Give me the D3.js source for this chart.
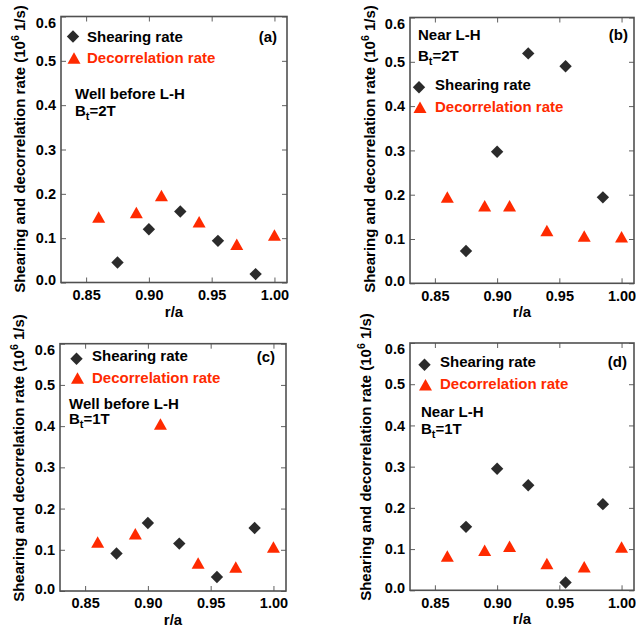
<!DOCTYPE html>
<html>
<head>
<meta charset="utf-8">
<script src="https://cdn.jsdelivr.net/npm/d3@7"></script>
<style>
  html, body { margin: 0; padding: 0; background: #fff; }
  svg { display: block; }
  text { font-family: "Liberation Sans", Arial, Helvetica, sans-serif; font-weight: bold; }
</style>
</head>
<body>
<script>
// Normalised radius of each measurement
const radiusShear = [0.875, 0.900, 0.925, 0.955, 0.985];
const radiusDecor = [0.860, 0.890, 0.910, 0.940, 0.970, 1.000];

// Rates in units of 10^6 1/s
const shearA = [0.045, 0.120, 0.160, 0.094, 0.019];
const decorA = [0.148, 0.158, 0.196, 0.137, 0.086, 0.107];
const shearB = [0.073, 0.297, 0.519, 0.490, 0.194];
const decorB = [0.195, 0.175, 0.175, 0.119, 0.107, 0.105];
const shearC = [0.091, 0.165, 0.115, 0.034, 0.153];
const decorC = [0.119, 0.139, 0.405, 0.068, 0.058, 0.107];
const shearD = [0.154, 0.295, 0.255, 0.019, 0.209];
const decorD = [0.083, 0.097, 0.107, 0.065, 0.057, 0.105];

const xTickValues = [0.85, 0.90, 0.95, 1.00];
const yTickValues = [0.0, 0.1, 0.2, 0.3, 0.4, 0.5, 0.6];
const seriesNames = ["Shearing rate", "Decorrelation rate"];
const panelTags = ["(a)", "(b)", "(c)", "(d)"];
const conditionText = ["Well before L-H", "Near L-H", "Well before L-H", "Near L-H"];
const fieldText = ["2T", "2T", "1T", "1T"];

const shearSets = [shearA, shearB, shearC, shearD];
const decorSets = [decorA, decorB, decorC, decorD];

const W = 636, H = 634;
const frameColor = "#505050";
const diamondColor = "#2b2b2b";
const triangleColor = "#ff2a00";

// Panel placement and annotation anchors
const layout = [
  { box: [61, 287, 16.5, 282.5], tag: [277, 41.5],
    leg: { mx: 73, sy: 36.5, ty: 58, tx: 87, sb: 41.5, db: 63.3 },
    cond: { x: 75, y: 99.3, dy: 16.7 }, title: { x: 24.5, y: 149 } },
  { box: [410, 634, 17.5, 283.3], tag: [628, 40],
    leg: { mx: 419, sy: 87.3, ty: 107.3, tx: 435, sb: 90, db: 112.3 },
    cond: { x: 418, y: 39.5, dy: 21.3 }, title: { x: 374.5, y: 149 } },
  { box: [60, 286, 343.7, 591], tag: [275, 362],
    leg: { mx: 76.5, sy: 358.7, ty: 378, tx: 92, sb: 361.3, db: 383 },
    cond: { x: 69, y: 408.7, dy: 15.7 }, title: { x: 24, y: 458 } },
  { box: [410, 634, 343, 590.3], tag: [627, 367],
    leg: { mx: 424.5, sy: 364.7, ty: 384.7, tx: 440, sb: 367, db: 389.3 },
    cond: { x: 421, y: 417, dy: 17 }, title: { x: 371, y: 457 } }
];

const svg = d3.select("body").append("svg")
  .attr("width", W).attr("height", H)
  .attr("viewBox", `0 0 ${W} ${H}`);

function diamondPath(cx, cy, r) {
  return `M${cx},${cy - r}L${cx + r},${cy}L${cx},${cy + r}L${cx - r},${cy}Z`;
}
function trianglePath(cx, cy, w, h) {
  return `M${cx},${cy - h / 2}L${cx + w / 2},${cy + h / 2}L${cx - w / 2},${cy + h / 2}Z`;
}

layout.forEach((L, i) => {
  const [x0, x1, y0, y1] = L.box;
  const x = d3.scaleLinear().domain([0.83, 1.01]).range([x0, x1]);
  const y = d3.scaleLinear().domain([0, 0.6]).range([y1, y0]);
  const g = svg.append("g");

  // Inward ticks on all four sides
  const bottom = g.append("g").attr("transform", `translate(0,${y1})`)
    .call(d3.axisBottom(x).tickValues(xTickValues).tickFormat(d3.format(".2f"))
      .tickSizeInner(-5).tickSizeOuter(0).tickPadding(7));
  const top = g.append("g").attr("transform", `translate(0,${y0})`)
    .call(d3.axisTop(x).tickValues(xTickValues).tickFormat("")
      .tickSizeInner(-5).tickSizeOuter(0));
  const left = g.append("g").attr("transform", `translate(${x0},0)`)
    .call(d3.axisLeft(y).tickValues(yTickValues).tickFormat(d3.format(".1f"))
      .tickSizeInner(-5).tickSizeOuter(0).tickPadding(5));
  const right = g.append("g").attr("transform", `translate(${x1},0)`)
    .call(d3.axisRight(y).tickValues(yTickValues).tickFormat("")
      .tickSizeInner(-5).tickSizeOuter(0));

  [bottom, top, left, right].forEach(a => {
    a.select(".domain").remove();
    a.selectAll(".tick line").attr("stroke", "#606060").attr("stroke-width", 1);
    a.selectAll("text").attr("fill", "#000").attr("font-size", "14.5px")
      .attr("font-family", null);
  });
  // keep end labels inside the frame height
  left.selectAll(".tick text").attr("y", d => {
    const p = y(d);
    return Math.min(Math.max(p, y0 + 6), y1 - 2.5) - p;
  });

  g.append("rect")
    .attr("x", x0).attr("y", y0)
    .attr("width", x1 - x0).attr("height", y1 - y0)
    .attr("fill", "none").attr("stroke", frameColor).attr("stroke-width", 1.6);

  // axis titles
  g.append("text")
    .attr("x", (x0 + x1) / 2).attr("y", y1 + 34)
    .attr("text-anchor", "middle").attr("font-size", "15px")
    .text("r/a");

  const t = g.append("text")
    .attr("transform", `translate(${L.title.x},${L.title.y}) rotate(-90)`)
    .attr("text-anchor", "middle").attr("font-size", "15px");
  t.append("tspan").text("Shearing and decorrelation rate (10");
  t.append("tspan").attr("dy", -6).attr("font-size", "10.5px").text("6");
  t.append("tspan").attr("dy", 6).text(" 1/s)");

  // data marks
  g.append("g").selectAll("path")
    .data(decorSets[i].map((v, k) => [radiusDecor[k], v]))
    .join("path")
    .attr("d", d => trianglePath(x(d[0]), y(d[1]), 13, 11.5))
    .attr("fill", triangleColor);

  g.append("g").selectAll("path")
    .data(shearSets[i].map((v, k) => [radiusShear[k], v]))
    .join("path")
    .attr("d", d => diamondPath(x(d[0]), y(d[1]), 6.2))
    .attr("fill", diamondColor);

  // legend
  g.append("path").attr("d", diamondPath(L.leg.mx, L.leg.sy, 6.2)).attr("fill", diamondColor);
  g.append("path").attr("d", trianglePath(L.leg.mx + 1, L.leg.ty, 13, 11.5)).attr("fill", triangleColor);
  g.append("text").attr("x", L.leg.tx).attr("y", L.leg.sb)
    .attr("font-size", "15px").attr("fill", "#000").text(seriesNames[0]);
  g.append("text").attr("x", L.leg.tx).attr("y", L.leg.db)
    .attr("font-size", "15px").attr("fill", triangleColor).text(seriesNames[1]);

  // panel tag
  g.append("text").attr("x", L.tag[0]).attr("y", L.tag[1])
    .attr("text-anchor", "end").attr("font-size", "15px").text(panelTags[i]);

  // discharge condition
  g.append("text").attr("x", L.cond.x).attr("y", L.cond.y)
    .attr("font-size", "15px").text(conditionText[i]);
  const bt = g.append("text").attr("x", L.cond.x).attr("y", L.cond.y + L.cond.dy)
    .attr("font-size", "15px");
  bt.append("tspan").text("B");
  bt.append("tspan").attr("dy", 4).attr("font-size", "11px").text("t");
  bt.append("tspan").attr("dy", -4).text("=" + fieldText[i]);
});
</script>
</body>
</html>
